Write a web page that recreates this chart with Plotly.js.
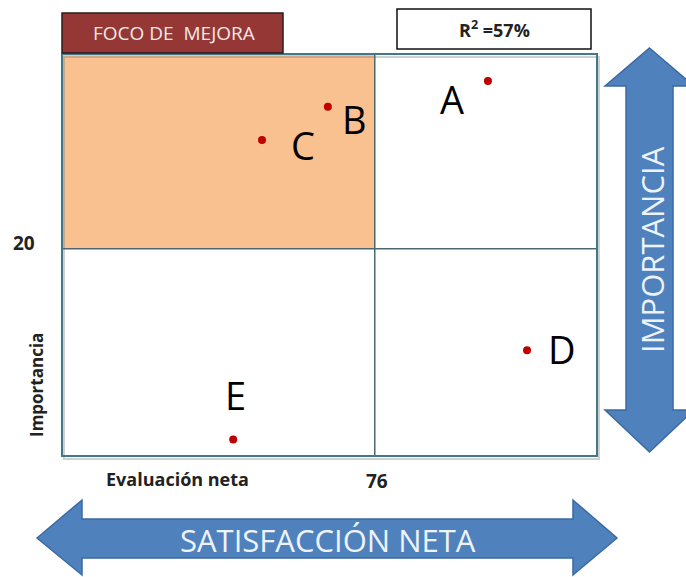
<!DOCTYPE html>
<html>
<head>
<meta charset="utf-8">
<script src="https://cdn.plot.ly/plotly-3.0.1.min.js"></script>
<style>html,body{margin:0;padding:0;background:#fff;}#chart{width:686px;height:577px;}</style>
</head>
<body>
<div id="chart"></div>
<script>
// ---- data ----
var labels = ['A', 'B', 'C', 'D', 'E'];
var evaluacionNeta = [103.5, 64.6, 48.6, 113.0, 41.6];
var importancia = [36.2, 33.7, 30.5, 10.2, 1.6];
var corteEvaluacion = 76;
var corteImportancia = 20;
var xRange = [0, 130];
var yRange = [0, 38.8];
var tituloFoco = 'FOCO DE  MEJORA';
var tituloR2 = 'R<sup>2</sup> =57%';
var textoEjeX = 'Evaluación neta';
var textoEjeY = 'Importancia';
var flechaX = 'SATISFACCIÓN NETA';
var flechaY = 'IMPORTANCIA';

// ---- layout helpers (pixel -> paper) ----
var L = 62, R = 597, T = 54, B = 456;
function px(x) { return (x - L) / (R - L); }
function py(y) { return (B - y) / (B - T); }
function pathFrom(pts) {
  return pts.map(function (p, i) { return (i ? 'L' : 'M') + px(p[0]).toFixed(4) + ',' + py(p[1]).toFixed(4); }).join(' ') + ' Z';
}

// label offsets (pixels) relative to each point
var labelDx = [-36, 27, 41, 35, 2];
var labelDy = [-21, -15, -8, -2, 41];

var font = '"Open Sans", "Liberation Sans", sans-serif';

var annotations = labels.map(function (l, i) {
  return {
    x: evaluacionNeta[i], y: importancia[i], xref: 'x', yref: 'y',
    text: l, showarrow: false, xanchor: 'center', yanchor: 'middle',
    xshift: labelDx[i], yshift: labelDy[i] + 3,
    font: { family: font, size: 38, color: '#000' }
  };
});

function note(o) {
  o.showarrow = false; o.xanchor = 'center'; o.yanchor = 'middle';
  return o;
}

annotations.push(
  note({ x: px(174), y: py(33), xref: 'paper', yref: 'paper', text: tituloFoco,
    font: { family: font, size: 19, color: '#f4e8e8' } }),
  note({ x: px(494), y: py(29), xref: 'paper', yref: 'paper', text: '<b>' + tituloR2 + '</b>',
    font: { family: font, size: 18, color: '#222' } }),
  note({ x: px(24), y: corteImportancia, xref: 'paper', yref: 'y', yshift: 6, text: '<b>' + corteImportancia + '</b>',
    font: { family: font, size: 19, color: '#222' } }),
  note({ x: corteEvaluacion, y: py(481), xref: 'x', yref: 'paper', xshift: 2, text: '<b>' + corteEvaluacion + '</b>',
    font: { family: font, size: 19, color: '#222' } }),
  note({ x: px(177), y: py(479), xref: 'paper', yref: 'paper', text: '<b>' + textoEjeX + '</b>',
    font: { family: font, size: 18, color: '#222' } }),
  note({ x: px(36), y: py(385), xref: 'paper', yref: 'paper', text: '<b>' + textoEjeY + '</b>', textangle: -90,
    font: { family: font, size: 17, color: '#222' } }),
  note({ x: px(328), y: py(540), xref: 'paper', yref: 'paper', text: flechaX,
    font: { family: font, size: 31, color: '#eef3fa' } }),
  note({ x: px(652), y: py(250), xref: 'paper', yref: 'paper', text: flechaY, textangle: -90,
    font: { family: font, size: 31, color: '#eef3fa' } })
);

var arrowFill = '#4f81bd', arrowLine = '#3b6aa3';
var shapes = [
  // orange focus quadrant
  { type: 'rect', xref: 'paper', yref: 'y', x0: 0, x1: px(375), y0: corteImportancia, y1: yRange[1],
    fillcolor: '#f9c18f', line: { width: 0 }, layer: 'below' },
  // shadow
  { type: 'rect', xref: 'paper', yref: 'paper', x0: px(64), x1: px(599), y0: py(459), y1: py(57),
    fillcolor: 'rgba(0,0,0,0)', line: { color: 'rgba(120,120,120,0.35)', width: 2 }, layer: 'below' },
  // dividers
  { type: 'line', xref: 'x', yref: 'paper', x0: corteEvaluacion, x1: corteEvaluacion, y0: 0, y1: 1,
    line: { color: '#4b6872', width: 1.5 } },
  { type: 'line', xref: 'paper', yref: 'y', x0: 0, x1: 1, y0: corteImportancia, y1: corteImportancia,
    line: { color: '#4b6872', width: 1.5 } },
  // frame
  { type: 'rect', xref: 'paper', yref: 'paper', x0: 0, x1: 1, y0: 0, y1: 1,
    line: { color: '#41798a', width: 2 } },
  // FOCO box
  { type: 'rect', xref: 'paper', yref: 'paper', x0: px(62), x1: px(283), y0: py(53), y1: py(13),
    fillcolor: '#953735', line: { color: '#2b1e1e', width: 1.5 } },
  // R2 box
  { type: 'rect', xref: 'paper', yref: 'paper', x0: px(397), x1: px(591), y0: py(49), y1: py(9),
    fillcolor: '#ffffff', line: { color: '#111', width: 1.5 } },
  // right vertical arrow
  { type: 'path', xref: 'paper', yref: 'paper',
    path: pathFrom([[649.5, 48], [694, 86], [673, 86], [673, 410], [694, 410], [649.5, 452], [605, 410], [626, 410], [626, 86], [605, 86]]),
    fillcolor: arrowFill, line: { color: arrowLine, width: 1.5 } },
  // bottom horizontal arrow
  { type: 'path', xref: 'paper', yref: 'paper',
    path: pathFrom([[37, 538], [82, 500], [82, 519], [573, 519], [573, 500], [617, 538], [573, 575], [573, 558], [82, 558], [82, 575]]),
    fillcolor: arrowFill, line: { color: arrowLine, width: 1.5 } }
];

var trace = {
  x: evaluacionNeta, y: importancia, text: labels, type: 'scatter', mode: 'markers',
  marker: { color: '#c00000', size: 8 }, hoverinfo: 'text', cliponaxis: false
};

var axisBase = { showgrid: false, zeroline: false, showticklabels: false, ticks: '', showline: false, fixedrange: true };

var layout = {
  width: 686, height: 577,
  margin: { l: L, r: 686 - R, t: T, b: 577 - B, pad: 0 },
  paper_bgcolor: '#ffffff', plot_bgcolor: '#ffffff',
  showlegend: false,
  xaxis: Object.assign({ range: xRange }, axisBase),
  yaxis: Object.assign({ range: yRange }, axisBase),
  shapes: shapes,
  annotations: annotations
};

Plotly.newPlot('chart', [trace], layout, { displayModeBar: false, staticPlot: true });
</script>
</body>
</html>
